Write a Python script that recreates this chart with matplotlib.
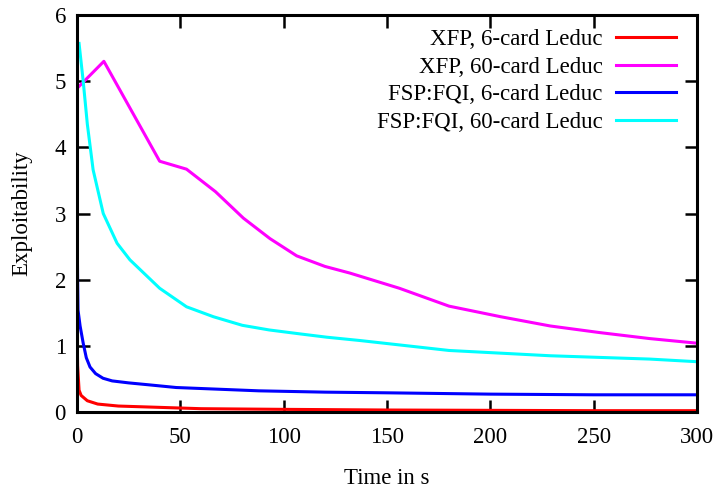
import matplotlib
matplotlib.use("Agg")
from matplotlib import pyplot as plt

# time in seconds / exploitability
xfp6_t = [0, 0.3, 1, 2, 5, 10, 20, 40, 60, 100, 150, 200, 250, 300]
xfp6_y = [1.3, 0.7, 0.33, 0.25, 0.17, 0.12, 0.09, 0.07, 0.05, 0.04, 0.03, 0.025, 0.02, 0.02]

xfp60_t = [0, 13, 40, 53, 67, 80.5, 93.4, 106.3, 120, 132, 156, 180, 205, 229, 253, 277, 300]
xfp60_y = [4.89, 5.30, 3.79, 3.67, 3.33, 2.93, 2.62, 2.36, 2.20, 2.10, 1.87, 1.60, 1.44, 1.30,
           1.20, 1.11, 1.04]

fsp6_t = [0, 0.3, 0.5, 1.5, 3, 4.5, 6.3, 9, 12.6, 17, 25, 35, 48, 64, 88, 120, 150, 200, 250, 300]
fsp6_y = [3.0, 2.0, 1.54, 1.3, 1.04, 0.82, 0.68, 0.58, 0.51, 0.47, 0.44, 0.41, 0.37, 0.35, 0.32,
          0.30, 0.29, 0.27, 0.26, 0.26]

fsp60_t = [1, 3, 5, 7.8, 12.7, 19.4, 25.6, 40, 53, 66, 80, 93, 108, 121, 137, 180, 229, 277, 300]
fsp60_y = [5.57, 5.0, 4.35, 3.66, 3.0, 2.55, 2.30, 1.87, 1.59, 1.44, 1.31, 1.24, 1.18, 1.13, 1.08,
           0.93, 0.85, 0.80, 0.76]

plt.rcParams["font.family"] = ["Liberation Serif", "DejaVu Serif"]
plt.rcParams["font.size"] = 16.5

fig = plt.figure(figsize=(7.2, 4.9), dpi=100)
ax = fig.add_axes([77 / 720, 1 - 412 / 490, 620 / 720, 397 / 490])

lw = 2.2
ax.plot(xfp6_t, xfp6_y, color="#ff0000", lw=lw, label="XFP, 6-card Leduc")
ax.plot(xfp60_t, xfp60_y, color="#ff00ff", lw=lw, label="XFP, 60-card Leduc")
ax.plot(fsp6_t, fsp6_y, color="#0000ff", lw=lw, label="FSP:FQI, 6-card Leduc")
ax.plot(fsp60_t, fsp60_y, color="#00ffff", lw=lw, label="FSP:FQI, 60-card Leduc")

ax.set_xlim(0, 300)
ax.set_ylim(0, 6)
ax.set_xticks(range(0, 301, 50))
ax.set_yticks(range(0, 7))

for s in ax.spines.values():
    s.set_linewidth(2.2)
ax.tick_params(direction="in", length=9, width=1.8, top=True, right=True)
ax.tick_params(axis="x", pad=11)
ax.tick_params(axis="y", pad=8)

ax.set_xlabel("Time in s", labelpad=14)
ax.set_ylabel("Exploitability", labelpad=16)

leg = ax.legend(loc="upper right", bbox_to_anchor=(0.981, 0.987), borderaxespad=0,
                markerfirst=False, frameon=False,
                handlelength=2.6, labelspacing=0.28, handletextpad=0.6,
                fontsize=16.5)

fig.savefig("out.png", dpi=100)
